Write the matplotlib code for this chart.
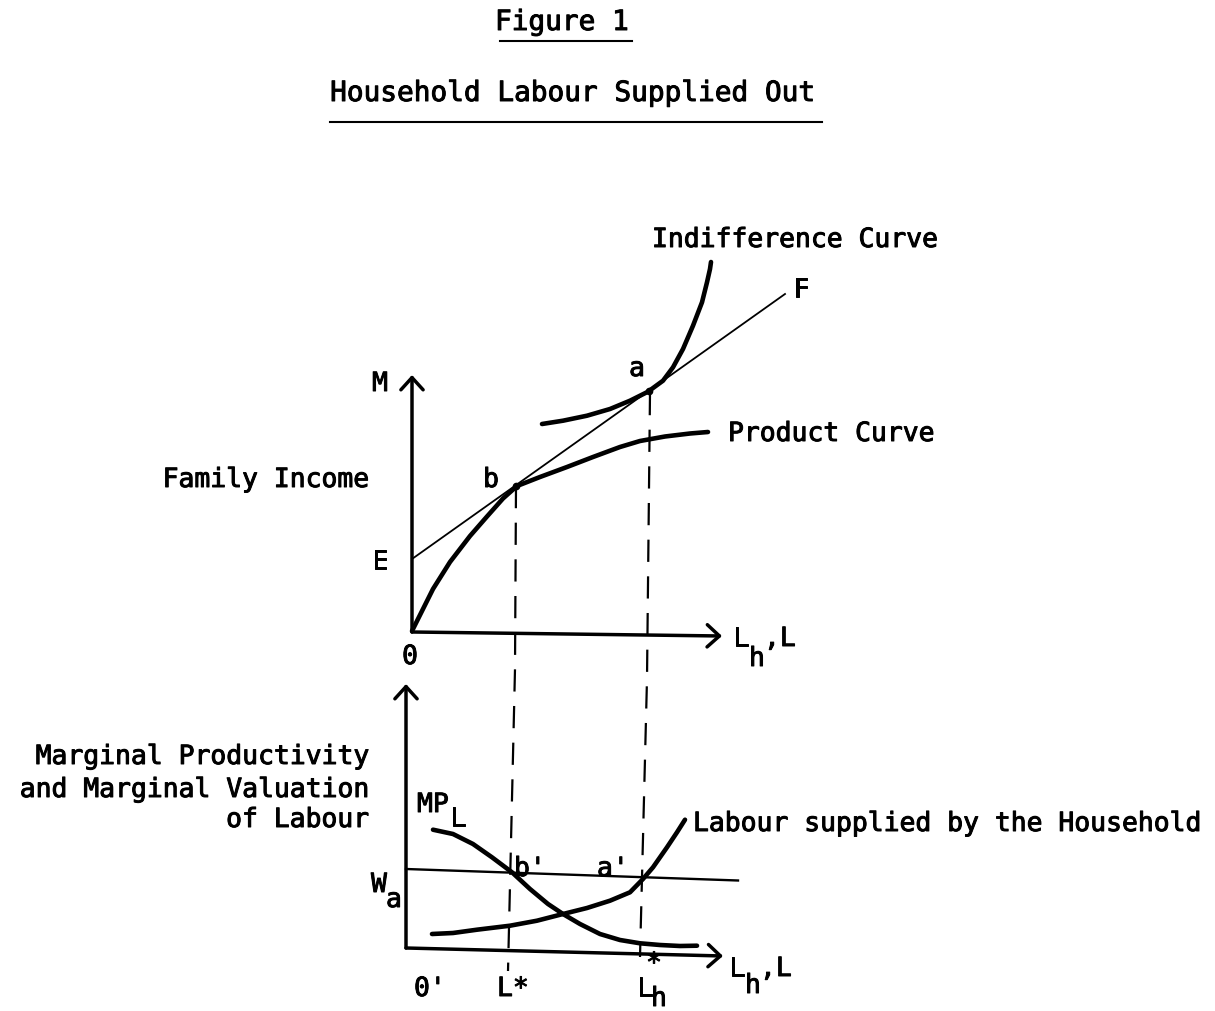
import matplotlib
matplotlib.use("Agg")
import matplotlib.pyplot as plt
import matplotlib.patheffects as pe

plt.rcParams['font.family'] = ['DejaVu Sans Mono', 'DejaVu Sans']

# All curves are given on the page grid (pixels, y grows downward)

# upper panel: family income against labour
product_x = [412, 422, 433, 450, 470, 487, 503, 517, 540, 567, 593, 620, 640, 665, 690, 708]
product_y = [632, 612, 590, 563, 537, 517.5, 499.5, 487, 478, 468, 458, 448, 442, 437.5, 434.5, 433]

indiff_x = [542, 563, 587, 610, 630, 648, 663, 673, 683, 693, 702, 707, 710, 711]
indiff_y = [425, 421.7, 416.7, 410, 401.7, 392.7, 381.7, 368.3, 350, 326.7, 303.3, 283.3, 270, 263]

budget_x = [412, 785]          # line E -> F
budget_y = [560, 295]

point_b = (516, 487)
point_a = (649, 392)

# drop lines from b and a down to the lower axis
drop_b_x = [516, 515, 508]
drop_b_y = [487, 670, 972]
drop_a_x = [650, 647, 640]
drop_a_y = [394, 680, 958]

# lower panel: marginal productivity / valuation
wage_x = [406, 738]
wage_y = [870, 881.5]

mpl_x = [433, 453, 473, 492, 512, 530, 548, 563, 580, 600, 620, 640, 660, 680, 697]
mpl_y = [830.7, 835, 845, 858.3, 873.3, 890, 905, 915, 925, 935, 941, 944.3, 946, 947, 946.7]

supply_x = [432, 453, 477, 510, 537, 563, 587, 610, 630, 643, 653, 667, 677, 685]
supply_y = [935, 934, 930.7, 926.7, 921.7, 915, 909, 901.7, 893.3, 880, 868.3, 848.3, 833.3, 820.7]

# axes (origin, tip of vertical, tip of horizontal)
top_origin, top_ytip, top_xtip = (412, 633), (412, 376), (722, 637)
low_origin, low_ytip, low_xtip = (406, 949), (406, 685), (723, 957)

lower_ylabel = ['Marginal Productivity', 'and Marginal Valuation', 'of Labour']

fig = plt.figure(figsize=(12.15, 10.12), dpi=100)
ax = fig.add_axes([0, 0, 1, 1])
ax.set_xlim(0, 1215)
ax.set_ylim(1012, 0)
ax.axis('off')

ink = 'black'
fs = 19
heavy = [pe.withStroke(linewidth=0.7, foreground=ink)]

def axis_arrow(start, tip):
    ax.annotate('', xy=tip, xytext=start,
                arrowprops=dict(arrowstyle='->,head_length=0.55,head_width=0.5',
                                lw=2.5, color=ink, shrinkA=0, shrinkB=0,
                                mutation_scale=16))

for o, yt, xt in [(top_origin, top_ytip, top_xtip), (low_origin, low_ytip, low_xtip)]:
    axis_arrow(o, yt)
    axis_arrow(o, xt)

dash = (0, (10, 6.5))
ax.plot(drop_b_x, drop_b_y, color=ink, lw=1.6, linestyle=dash)
ax.plot(drop_a_x, drop_a_y, color=ink, lw=1.6, linestyle=dash)

curve = dict(color=ink, lw=3.3, solid_capstyle='round', solid_joinstyle='round')
ax.plot(budget_x, budget_y, color=ink, lw=1.3)
ax.plot(product_x, product_y, **curve)
ax.plot(indiff_x, indiff_y, **curve)
ax.plot(*zip(point_b, point_a), 'o', color=ink, ms=4.5)

ax.plot(wage_x, wage_y, color=ink, lw=1.7)
ax.plot(mpl_x, mpl_y, **curve)
ax.plot(supply_x, supply_y, **curve)

# headings
ax.text(562, 31, 'Figure 1', fontsize=20, ha='center', va='baseline', path_effects=heavy)
ax.plot([500, 632], [42, 42], color=ink, lw=1.5)
ax.text(573, 102, 'Household Labour Supplied Out', fontsize=20, ha='center', va='baseline',
        path_effects=heavy)
ax.plot([330, 822], [123, 123], color=ink, lw=1.5)

def label(x, y, s, ha='left', **kw):
    ax.text(x, y, s, fontsize=fs, ha=ha, va='baseline', path_effects=heavy, **kw)

# upper panel labels
label(652, 248, 'Indifference Curve')
label(793, 298, 'F')
label(380, 392, 'M', ha='center')
label(637, 377, 'a', ha='center')
label(728, 442, 'Product Curve')
label(369, 488, 'Family Income', ha='right')
label(491, 488, 'b', ha='center')
label(380, 570, 'E', ha='center')
label(410, 665, '0', ha='center')
label(733, 647, 'L')
label(749, 667, 'h')
label(764, 647, ',L')

# lower panel labels
for line, base in zip(lower_ylabel, [765, 798, 828]):
    label(369, base, line, ha='right')
label(417, 813, 'MP')
label(450, 827, 'L')
label(514, 877, "b'")
label(597, 877, "a'")
label(371, 893, 'W')
label(386, 908, 'a')
label(693, 832, 'Labour supplied by the Household')
label(729, 977, 'L')
label(745, 994, 'h')
label(760, 977, ',L')
label(414, 997, "0'")
label(497, 997, 'L*')
label(637, 997, 'L')
label(651, 1007, 'h')
ax.text(654, 965, '*', fontsize=fs, ha='center', va='center', path_effects=heavy)

fig.savefig('out.png', dpi=100)
